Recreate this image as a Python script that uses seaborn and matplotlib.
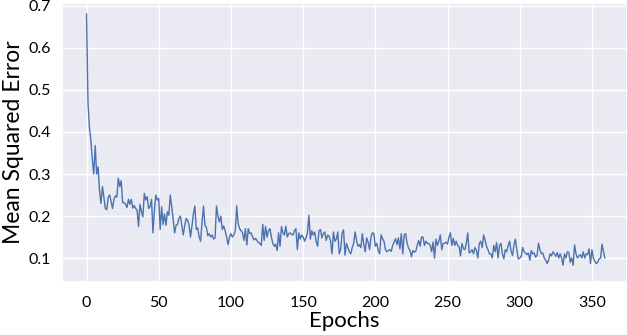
import numpy as np
import pandas as pd
import matplotlib
matplotlib.use("Agg")
import matplotlib.pyplot as plt
import seaborn as sns

mse = [
    0.681, 0.47, 0.41, 0.38, 0.335, 0.30, 0.368, 0.30, 0.317, 0.26,
    0.23, 0.27, 0.245, 0.218, 0.215, 0.245, 0.25, 0.235, 0.218, 0.24,
    0.248, 0.245, 0.29, 0.27, 0.284, 0.232, 0.232, 0.228, 0.22, 0.24,
    0.228, 0.24, 0.219, 0.225, 0.218, 0.214, 0.175, 0.228, 0.21, 0.198,
    0.254, 0.238, 0.246, 0.218,
    0.222, 0.24, 0.16, 0.215, 0.25, 0.238, 0.242, 0.168, 0.222, 0.18,
    0.205, 0.178, 0.21, 0.202, 0.25, 0.222, 0.19, 0.16, 0.178, 0.18,
    0.195, 0.2, 0.176, 0.155, 0.178, 0.194, 0.19, 0.178, 0.15, 0.176,
    0.205, 0.224, 0.168, 0.172, 0.15, 0.14, 0.186, 0.224, 0.178, 0.173,
    0.153, 0.158, 0.15, 0.155, 0.145, 0.148, 0.224, 0.2, 0.186, 0.2,
    0.168, 0.176, 0.165, 0.15, 0.132, 0.15, 0.158, 0.15, 0.155, 0.165,
    0.224, 0.182, 0.17, 0.165, 0.16, 0.142, 0.17, 0.131, 0.17, 0.158,
    0.16, 0.15, 0.143, 0.147, 0.142, 0.137, 0.135, 0.13, 0.18, 0.142,
    0.175, 0.15, 0.165, 0.17, 0.15, 0.135, 0.128, 0.133, 0.118, 0.16,
    0.128, 0.175, 0.16, 0.155, 0.176, 0.15, 0.158, 0.16, 0.156, 0.155,
    0.165, 0.17, 0.12, 0.16, 0.145, 0.155, 0.15, 0.14, 0.148, 0.16,
    0.202, 0.145, 0.165, 0.155, 0.162, 0.14, 0.128, 0.165, 0.168, 0.148,
    0.158, 0.162, 0.142, 0.155, 0.152, 0.14, 0.11, 0.162, 0.14, 0.145,
    0.162, 0.11, 0.12, 0.16, 0.167, 0.107, 0.135, 0.125, 0.115, 0.11,
    0.125, 0.135, 0.162, 0.142, 0.128, 0.132, 0.125, 0.158, 0.132, 0.115,
    0.148, 0.138, 0.12, 0.15, 0.16, 0.158, 0.128, 0.135, 0.118, 0.11,
    0.155, 0.146, 0.14, 0.12, 0.115, 0.118, 0.12, 0.116, 0.13, 0.138,
    0.146, 0.132, 0.148, 0.122, 0.158, 0.11, 0.155, 0.158, 0.135, 0.124,
    0.118, 0.103, 0.118, 0.114, 0.116, 0.13, 0.142, 0.128, 0.15, 0.15,
    0.13, 0.14, 0.135, 0.135,
    0.13, 0.115, 0.138, 0.1, 0.145, 0.13, 0.14, 0.155, 0.12, 0.135,
    0.135, 0.138, 0.133, 0.15, 0.16, 0.13, 0.147, 0.13, 0.14, 0.13,
    0.127, 0.105, 0.135, 0.122, 0.12, 0.135, 0.16, 0.112, 0.115, 0.12,
    0.11, 0.125, 0.118, 0.1, 0.135, 0.14, 0.125, 0.155, 0.143, 0.128,
    0.12, 0.11, 0.11, 0.1, 0.13, 0.115, 0.137, 0.1, 0.13, 0.135,
    0.11, 0.098, 0.12, 0.115, 0.13, 0.14, 0.117, 0.106, 0.13, 0.145,
    0.12, 0.098,
    0.1, 0.103, 0.125, 0.115, 0.112, 0.108, 0.112, 0.095, 0.118, 0.11,
    0.112, 0.102, 0.106, 0.135, 0.12, 0.11, 0.112, 0.1, 0.095, 0.087,
    0.095, 0.11, 0.105, 0.115, 0.11, 0.104, 0.113, 0.1, 0.11, 0.1,
    0.083, 0.11, 0.1, 0.115, 0.113, 0.09, 0.1, 0.083, 0.131, 0.11,
    0.1, 0.105, 0.108, 0.1, 0.115, 0.1, 0.11, 0.108, 0.122, 0.087,
    0.12, 0.1, 0.092, 0.087, 0.09, 0.098, 0.1, 0.133, 0.115, 0.1,
]
epochs = list(range(len(mse)))
x_ticks = [0, 50, 100, 150, 200, 250, 300, 350]
y_ticks = [0.1, 0.2, 0.3, 0.4, 0.5, 0.6, 0.7]

sns.set_theme(style="darkgrid")
plt.rcParams["font.family"] = ["Lato", "DejaVu Sans"]

df = pd.DataFrame({"Epochs": epochs, "Mean Squared Error": mse})

fig = plt.figure(figsize=(6.27, 3.35), dpi=100)
ax = fig.add_axes([62 / 627, 53 / 335, 565 / 627, 279 / 335])
sns.lineplot(data=df, x="Epochs", y="Mean Squared Error", ax=ax,
             color="#4C72B0", linewidth=1.0)

ax.set_xlim(-17, 374.3)
ax.set_ylim(0.043, 0.707)
ax.set_xticks(x_ticks)
ax.set_yticks(y_ticks)
ax.set_yticklabels([f"{v:.1f}" for v in y_ticks])
ax.tick_params(axis="both", length=0, labelsize=11.5, colors="black")
ax.tick_params(axis="x", pad=10)
ax.tick_params(axis="y", pad=8)
ax.set_xlabel("Epochs", fontsize=16, color="black", labelpad=1)
ax.set_ylabel("Mean Squared Error", fontsize=16.5, color="black", labelpad=3)

fig.savefig("out.png", dpi=100)
